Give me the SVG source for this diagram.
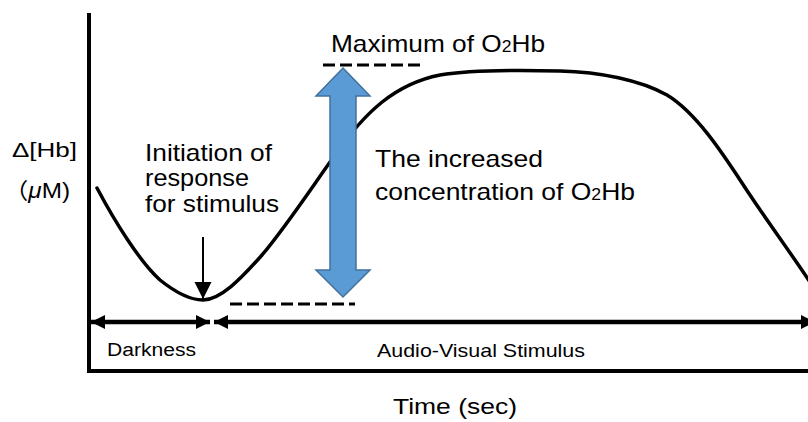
<svg xmlns="http://www.w3.org/2000/svg" width="808" height="422" viewBox="0 0 808 422">
<defs>
<style>
.t{font-family:"Liberation Sans",Arial,"Noto Sans CJK JP",sans-serif;fill:#000}
.big{font-size:24px}
.mid{font-size:21px}
.dash{stroke:#000;stroke-width:3;stroke-dasharray:12,5;fill:none}
.ln{stroke:#000;fill:none}
</style>
<marker id="ah" viewBox="0 0 14 14" refX="14" refY="7" markerWidth="14" markerHeight="14" markerUnits="userSpaceOnUse" orient="auto-start-reverse">
<path d="M0,0 L14,7 L0,14 Z" fill="#000"/>
</marker>
<marker id="ahs" viewBox="0 0 17 20" refX="17" refY="10" markerWidth="17" markerHeight="20" markerUnits="userSpaceOnUse" orient="auto">
<path d="M0,1.5 L17,10 L0,18.5 Z" fill="#000"/>
</marker>
</defs>
<rect width="808" height="422" fill="#fff"/>

<g id="axes">
<path class="ln" d="M89,13 V371 H812" stroke-width="4"/>
</g>

<g id="curve">
<path class="ln" stroke-width="3.5" stroke-linecap="round" d="M97,188 C115,222 140,262 160,280 C175,292 190,300 203,300 C220,300 240,280 262,255 C285,228 310,190 335,155 C365,112 395,84 440,75 C470,70 520,70 560,71 C600,72 640,80 667,95 C700,115 730,165 750,195 C770,225 790,252 810,282"/>
</g>

<g id="levels">
<line class="dash" x1="323" y1="65" x2="421" y2="65"/>
<line class="dash" x1="230" y1="304" x2="355" y2="304"/>
</g>

<g id="increase-arrow">
<polygon points="343,68 370,96 356,96 356,270 370,270 343,297 316,270 330,270 330,96 316,96" fill="#5B9BD5" stroke="#41719C" stroke-width="1.5" stroke-linejoin="miter"/>
</g>

<g id="connectors">
<line class="ln" x1="203" y1="237" x2="203" y2="299" stroke-width="2" marker-end="url(#ahs)"/>
<line class="ln" x1="91" y1="322" x2="210" y2="322" stroke-width="4.5" marker-start="url(#ah)" marker-end="url(#ah)"/>
<line class="ln" x1="214" y1="322" x2="815" y2="322" stroke-width="4.5" marker-start="url(#ah)" marker-end="url(#ah)"/>
</g>

<g id="labels">
<text class="t mid" x="12" y="157" textLength="65" lengthAdjust="spacingAndGlyphs">Δ[Hb]</text>
<text class="t" x="4" y="198" font-size="22" textLength="66" lengthAdjust="spacingAndGlyphs">（<tspan font-style="italic">μ</tspan>M)</text>
<text class="t big" x="145" y="161" textLength="127" lengthAdjust="spacingAndGlyphs">Initiation of</text>
<text class="t big" x="145" y="186" textLength="104" lengthAdjust="spacingAndGlyphs">response</text>
<text class="t big" x="145" y="212" textLength="134" lengthAdjust="spacingAndGlyphs">for stimulus</text>
<text class="t big" x="331" y="52" textLength="214" lengthAdjust="spacingAndGlyphs">Maximum of O<tspan font-size="16">2</tspan>Hb</text>
<text class="t big" x="375" y="167" textLength="168" lengthAdjust="spacingAndGlyphs">The increased</text>
<text class="t big" x="375" y="200" textLength="260" lengthAdjust="spacingAndGlyphs">concentration of O<tspan font-size="16">2</tspan>Hb</text>
<text class="t" x="107" y="356" font-size="18" textLength="89" lengthAdjust="spacingAndGlyphs">Darkness</text>
<text class="t" x="377" y="357" font-size="19" textLength="208" lengthAdjust="spacingAndGlyphs">Audio-Visual Stimulus</text>
<text class="t" x="393" y="414" font-size="22" textLength="124" lengthAdjust="spacingAndGlyphs">Time (sec)</text>
</g>
</svg>
